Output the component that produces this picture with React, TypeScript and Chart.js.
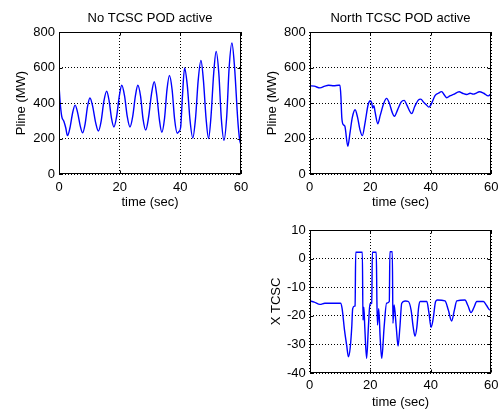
import React, { useEffect, useRef } from "react";
import { Chart, registerables } from "chart.js";

Chart.register(...registerables);

// ---------- data ----------
const xTicks = [0, 20, 40, 60];

const tNoPod = [0, 0.4, 0.9, 1.6, 2.2, 2.8, 3.6, 4.5, 5.3, 6.1, 7.0, 7.8, 8.6, 9.4, 10.2, 11.1, 12.1, 13.0, 13.9, 14.8, 15.7, 16.5, 17.3, 18.1, 19.0, 19.9, 20.7, 21.6, 22.5, 23.4, 24.3, 25.2, 26.0, 26.9, 27.7, 28.6, 29.5, 30.5, 31.4, 32.2, 33.1, 33.9, 34.8, 35.6, 36.4, 37.3, 38.1, 39.0, 39.5, 40.1, 40.7, 41.4, 42.3, 43.2, 44.1, 45.0, 45.9, 46.8, 47.6, 48.5, 49.3, 50.1, 51.0, 51.8, 52.7, 53.5, 54.4, 55.3, 56.1, 57.0, 57.9, 58.9, 59.4, 59.8, 60];
const pNoPod = [500, 400, 325, 297, 262, 216, 259, 345, 388, 349, 271, 232, 281, 379, 428, 381, 288, 242, 298, 410, 466, 415, 315, 265, 324, 441, 500, 441, 324, 265, 324, 441, 500, 437, 311, 248, 316, 452, 520, 448, 306, 235, 315, 475, 555, 473, 311, 230, 238, 262, 440, 597, 498, 302, 203, 312, 530, 640, 530, 310, 200, 322, 567, 690, 565, 315, 190, 327, 601, 738, 596, 313, 215, 172, 260];

const tNorth = [0, 1.5, 3.4, 5.0, 6.2, 8.0, 9.5, 10.0, 10.3, 10.6, 11.1, 11.6, 12.6, 13.3, 14.1, 15.0, 15.8, 16.6, 17.4, 18.3, 19.3, 20.0, 20.5, 20.8, 21.2, 21.6, 22.5, 23.3, 24.5, 25.4, 26.3, 27.2, 28.0, 29.0, 30.2, 31.2, 32.2, 33.0, 33.7, 34.7, 35.8, 36.7, 37.6, 38.5, 39.4, 40.2, 41.4, 42.5, 43.6, 44.5, 45.3, 46.3, 47.5, 49.4, 50.5, 51.9, 53.0, 54.0, 55.2, 56.0, 57.5, 59.0, 60];
const pNorth = [497, 495, 485, 495, 500, 497, 500, 500, 440, 320, 278, 270, 156, 230, 320, 362, 320, 250, 216, 290, 390, 413, 400, 372, 385, 350, 283, 330, 400, 426, 400, 350, 325, 360, 405, 415, 385, 355, 340, 380, 415, 422, 405, 390, 377, 395, 441, 455, 464, 445, 430, 440, 448, 463, 455, 448, 455, 450, 457, 463, 455, 440, 453];

const tX = [0, 1.5, 3.4, 5.0, 8.0, 10.2, 10.7, 11.5, 12.2, 12.8, 13.4, 13.9, 14.2, 14.8, 15.0, 15.2, 17.4, 17.6, 17.9, 18.2, 18.8, 19.4, 19.9, 20.5, 20.7, 22.0, 22.2, 22.4, 22.8, 23.3, 23.8, 24.6, 25.4, 26.3, 26.5, 27.3, 27.5, 27.9, 28.6, 29.2, 29.8, 30.4, 31.5, 32.6, 33.5, 34.2, 34.8, 35.4, 36.0, 36.5, 38.7, 39.4, 40.1, 40.8, 41.6, 42.2, 44.7, 45.8, 46.9, 47.8, 48.6, 51.3, 52.3, 53.3, 54.3, 55.2, 57.4, 58.5, 59.6, 60];
const xTcsc = [-14.8, -15.2, -16.0, -15.6, -15.6, -15.6, -17.4, -25, -30.2, -34.3, -31, -23.8, -17.5, -16.6, -16.5, 2.2, 2.2, -21.5, -17, -24, -34.9, -23.8, -15.8, -15.6, 2.2, 2.2, -14.5, -23.2, -17.5, -28, -34.9, -23.8, -15.6, -15.0, 2.4, 2.4, -22.6, -16.2, -24, -30.6, -24, -15.6, -14.8, -15, -18, -24, -27.1, -24, -17, -15, -15, -19, -24, -21, -15, -14.5, -14.8, -18, -21.8, -18, -14.8, -14.5, -16.5, -18.9, -17, -15, -15, -16.5, -18, -17.8];

// ---------- styling ----------
const FONT = "'Liberation Sans', Arial, Helvetica, sans-serif";

const framePlugin = {
  id: "frame",
  afterDraw(chart: any) {
    const { ctx, chartArea: a, scales } = chart;
    const l = Math.round(a.left) + 0.5;
    const r = Math.round(a.right) - 0.5;
    const t = Math.round(a.top) + 0.5;
    const b = Math.round(a.bottom) - 0.5;
    ctx.save();
    ctx.strokeStyle = "#000";
    ctx.lineWidth = 1;
    ctx.setLineDash([]);
    ctx.strokeRect(l, t, r - l, b - t);
    const L = 3;
    ctx.beginPath();
    scales.x.ticks.forEach((tk: any) => {
      const px = Math.round(scales.x.getPixelForValue(tk.value)) + 0.5;
      ctx.moveTo(px, b);
      ctx.lineTo(px, b - L);
      ctx.moveTo(px, t);
      ctx.lineTo(px, t + L);
    });
    scales.y.ticks.forEach((tk: any) => {
      const py = Math.round(scales.y.getPixelForValue(tk.value)) + 0.5;
      ctx.moveTo(l, py);
      ctx.lineTo(l + L, py);
      ctx.moveTo(r, py);
      ctx.lineTo(r - L, py);
    });
    ctx.stroke();
    ctx.restore();
  },
};

type Cfg = {
  t: number[];
  v: number[];
  title?: string;
  ylabel: string;
  ymin: number;
  ymax: number;
  ystep: number;
  padTop: number;
  padRight: number;
  yWidth: number;
  xHeight: number;
  yTitlePad: number;
  xTitlePad: number;
  xTickPad: number;
};

function makeConfig(c: Cfg): any {
  const font = { family: FONT, size: 13, weight: "normal" as const };
  return {
    type: "line",
    data: {
      datasets: [
        {
          data: c.t.map((x, i) => ({ x, y: c.v[i] })),
          borderColor: "#0000ff",
          borderWidth: 1.4,
          pointRadius: 0,
          cubicInterpolationMode: "monotone",
          fill: false,
        },
      ],
    },
    options: {
      responsive: false,
      animation: false,
      devicePixelRatio: 1,
      layout: { padding: { left: 0, right: c.padRight, top: c.padTop, bottom: 0 } },
      plugins: {
        legend: { display: false },
        tooltip: { enabled: false },
        title: {
          display: !!c.title,
          text: c.title || "",
          color: "#000",
          font,
          fullSize: false,
          padding: { top: 10.5, bottom: 5.9 },
        },
      },
      scales: {
        x: {
          type: "linear",
          min: 0,
          max: 60,
          afterBuildTicks: (s: any) => {
            s.ticks = xTicks.map((value) => ({ value }));
          },
          afterFit: (s: any) => {
            s.height = c.xHeight;
            s.paddingLeft = 0;
            s.paddingRight = 0;
          },
          ticks: { color: "#000", font, padding: c.xTickPad, maxRotation: 0 },
          grid: { color: "#000", drawTicks: false, lineWidth: 1 },
          border: { display: false, dash: [1, 2] },
          title: {
            display: true,
            text: "time (sec)",
            color: "#000",
            font,
            padding: { top: 0, bottom: c.xTitlePad },
          },
        },
        y: {
          type: "linear",
          min: c.ymin,
          max: c.ymax,
          ticks: { stepSize: c.ystep, color: "#000", font, padding: 4 },
          afterFit: (s: any) => {
            s.width = c.yWidth;
            s.paddingTop = 0;
            s.paddingBottom = 0;
          },
          grid: { color: "#000", drawTicks: false, lineWidth: 1 },
          border: { display: false, dash: [1, 2] },
          title: {
            display: true,
            text: c.ylabel,
            color: "#000",
            font,
            padding: { top: c.yTitlePad, bottom: 0 },
          },
        },
      },
    },
    plugins: [framePlugin],
  };
}

function Plot(props: { cfg: Cfg; left: number; top: number; w: number; h: number }) {
  const ref = useRef<HTMLCanvasElement | null>(null);
  useEffect(() => {
    if (!ref.current) return;
    const chart = new Chart(ref.current, makeConfig(props.cfg));
    return () => chart.destroy();
  }, []);
  return (
    <canvas
      ref={ref}
      width={props.w}
      height={props.h}
      style={{ position: "absolute", left: props.left, top: props.top, width: props.w, height: props.h, display: "block" }}
    />
  );
}

export default function App() {
  return (
    <div style={{ position: "fixed", left: 0, top: 0, width: 501, height: 411, background: "#fff", overflow: "hidden" }}>
      <Plot
        left={0}
        top={0}
        w={250}
        h={215}
        cfg={{
          t: tNoPod,
          v: pNoPod,
          title: "No TCSC POD active",
          ylabel: "Pline (MW)",
          ymin: 0,
          ymax: 800,
          ystep: 200,
          padTop: 0,
          padRight: 9,
          yWidth: 59,
          xHeight: 41,
          yTitlePad: 14,
          xTitlePad: 4.5,
          xTickPad: 5.2,
        }}
      />
      <Plot
        left={250}
        top={0}
        w={251}
        h={215}
        cfg={{
          t: tNorth,
          v: pNorth,
          title: "North TCSC POD active",
          ylabel: "Pline (MW)",
          ymin: 0,
          ymax: 800,
          ystep: 200,
          padTop: 0,
          padRight: 9.7,
          yWidth: 59.7,
          xHeight: 41,
          yTitlePad: 14.7,
          xTitlePad: 4.5,
          xTickPad: 5.2,
        }}
      />
      <Plot
        left={250}
        top={215}
        w={251}
        h={196}
        cfg={{
          t: tX,
          v: xTcsc,
          ylabel: "X TCSC",
          ymin: -40,
          ymax: 10,
          ystep: 10,
          padTop: 15,
          padRight: 9.7,
          yWidth: 59.7,
          xHeight: 38,
          yTitlePad: 18.2,
          xTitlePad: 1.2,
          xTickPad: 4.2,
        }}
      />
    </div>
  );
}
